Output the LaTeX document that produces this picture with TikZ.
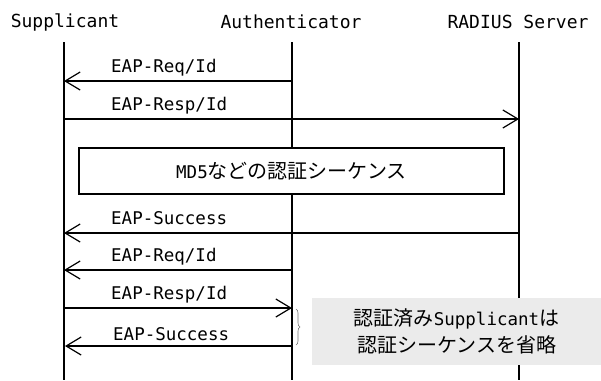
\documentclass[tikz,border=0pt]{standalone}
\usepackage{fontspec}
\newfontfamily\monofont{DejaVu Sans Mono}
\newfontfamily\jpfont{Noto Sans CJK JP}
\usetikzlibrary{arrows.meta, positioning, decorations.pathreplacing}

\begin{document}
\begin{tikzpicture}[x=1pt, y=-1pt, >={Straight Barb[length=15pt, width=18pt]}]
		\tikzstyle{head} = [inner sep=0, font=\fontsize{18}{20}\selectfont\monofont]
		\tikzstyle{msg} = [inner sep=0, anchor=west, font=\fontsize{17.5}{20}\selectfont\monofont]
		\tikzstyle{life} = [line width=1.2pt]
		\tikzstyle{arrow} = [line width=1.2pt, ->]
		\tikzstyle{seq} = [draw, line width=1.2pt, fill=white, inner sep=0, minimum width=425pt, minimum height=46pt, font=\fontsize{17.5}{20}\selectfont\monofont]
		\tikzstyle{note} = [fill=black!8, inner sep=0, minimum width=289pt, minimum height=67pt, align=center, font=\fontsize{17.5}{27}\selectfont\monofont]
		
		\useasboundingbox (0,0) rectangle (601,380);
		
		% participants
		\node[head]	at (65, 22)		(sup)	{Supplicant};
		\node[head]	at (291, 22)	(auth)	{Authenticator};
		\node[head]	at (518, 22)	(rad)	{RADIUS Server};
		
		\coordinate (supTop)	at (64, 42);
		\coordinate (supBot)	at (64, 380);
		\coordinate (authTop)	at (292, 42);
		\coordinate (authBot)	at (292, 380);
		\coordinate (radTop)	at (519, 42);
		\coordinate (radBot)	at (519, 380);
		
		\draw[life] (supTop) -- (supBot);
		\draw[life] (authTop) -- (authBot);
		\draw[life] (radTop) -- (radBot);
		
		% message ends
		\coordinate (s1) at (64, 81);	\coordinate (a1) at (292, 81);
		\coordinate (s2) at (64, 119);	\coordinate (r2) at (519, 119);
		\coordinate (s3) at (64, 233);	\coordinate (r3) at (519, 233);
		\coordinate (s4) at (64, 270);	\coordinate (a4) at (292, 270);
		\coordinate (s5) at (64, 308);	\coordinate (a5) at (292, 308);
		\coordinate (s6) at (65, 346);	\coordinate (a6) at (292, 346);
		
		\node[seq]	at (291.5, 171)	(md5)	{MD5{\fontsize{20}{27}\selectfont\jpfont などの認証シーケンス}};
		
		\path[arrow]
		(a1) edge (s1)
		(s2) edge (r2)
		(r3) edge (s3)
		(a4) edge (s4)
		(s5) edge (a5)
		(a6) edge (s6);
		
		\node[msg]	at (111, 68)	(m1)	{EAP-Req/Id};
		\node[msg]	at (111, 106)	(m2)	{EAP-Resp/Id};
		\node[msg]	at (111, 218)	(m3)	{EAP-Success};
		\node[msg]	at (111, 257)	(m4)	{EAP-Req/Id};
		\node[msg]	at (111, 295)	(m5)	{EAP-Resp/Id};
		\node[msg]	at (113, 334)	(m6)	{EAP-Success};
		
		\node[note]	at (456.5, 331.5)	(skip)	{{\jpfont\fontsize{20}{27}\selectfont 認証済み}Supplicant{\jpfont\fontsize{20}{27}\selectfont は}\\{\jpfont\fontsize{20}{27}\selectfont 認証シーケンスを省略}};
		
		\coordinate (b1) at (296, 309);
		\coordinate (b2) at (296, 345);
		\draw[black!55, line width=0.6pt, decorate, decoration={brace, amplitude=4pt}] (b1) -- (b2);
	\end{tikzpicture}
\end{document}
